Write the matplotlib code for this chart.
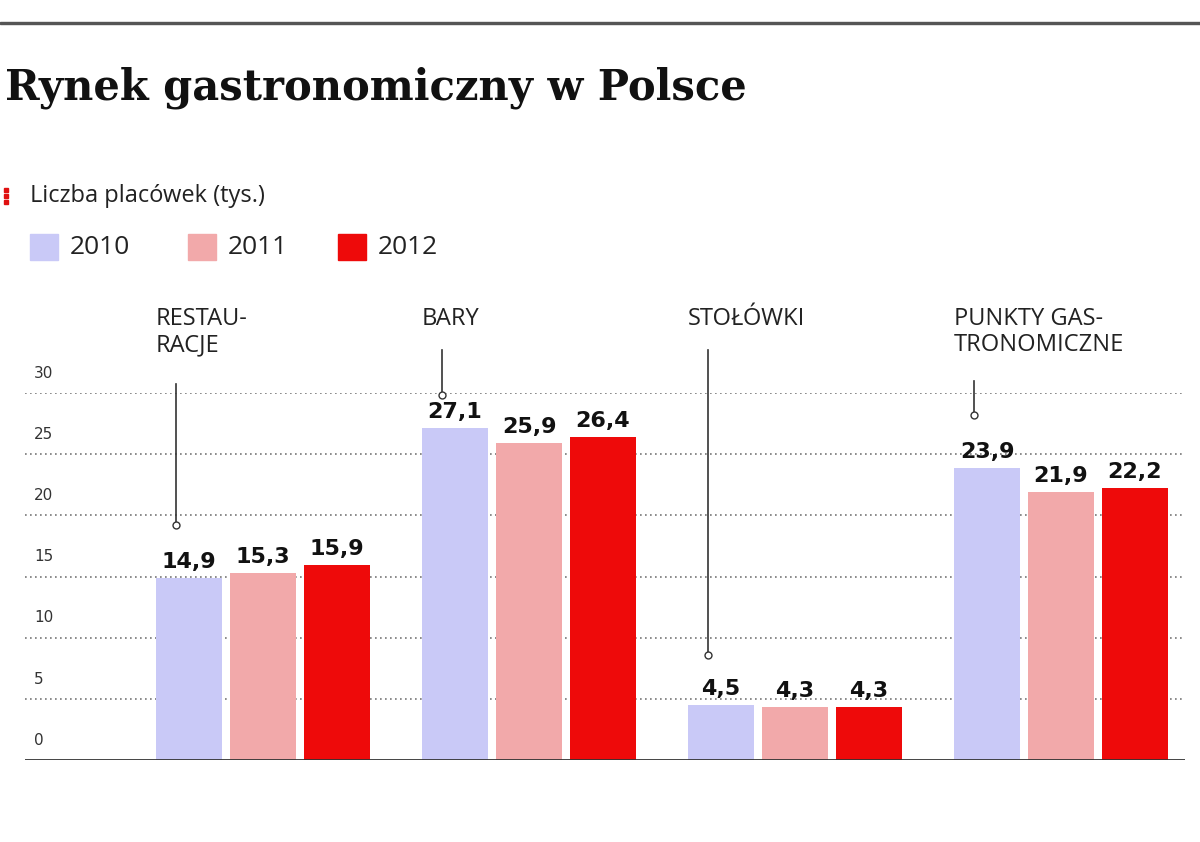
import matplotlib
matplotlib.use("Agg")
import matplotlib.pyplot as plt
import numpy as np

categories = ["RESTAU-\nRACJE", "BARY", "STOŁÓWKI", "PUNKTY GAS-\nTRONOMICZNE"]
years = ["2010", "2011", "2012"]
v2010 = [14.9, 27.1, 4.5, 23.9]
v2011 = [15.3, 25.9, 4.3, 21.9]
v2012 = [15.9, 26.4, 4.3, 22.2]
yticks = [0, 5, 10, 15, 20, 25, 30]
colors = ["#c9c9f7", "#f2a9aa", "#ee0a0a"]

W, H = 1200, 842
fig = plt.figure(figsize=(12, 8.42), dpi=100)
fig.patches.append(plt.Rectangle((0, 1 - 24/H), 1, 2/H, transform=fig.transFigure, color="#555555"))
fig.text(5/W, 1 - 88/H, "Rynek gastronomiczny w Polsce", fontsize=30, fontweight="bold",
         family="DejaVu Serif", va="center", color="#111111")
fig.text(30/W, 1 - 196/H, "Liczba placówek (tys.)", fontsize=17, va="center", color="#222222", family="Open Sans")
for dy in (-6, 0, 6):
    fig.patches.append(plt.Rectangle((4/W, 1 - (196+dy+2)/H), 4/W, 4/H, transform=fig.transFigure, color="#e01010"))
lx = [30, 188, 338]
for xx, y, c in zip(lx, years, colors):
    fig.patches.append(plt.Rectangle((xx/W, 1 - 260/H), 28/W, 26/H, transform=fig.transFigure, color=c))
    fig.text((xx+40)/W, 1 - 247/H, y, fontsize=19, va="center", color="#222222", family="Open Sans")

ax = fig.add_axes([25/W, 82/H, 1160/W, 367/H])
ax.set_ylim(0, 30)
ax.set_xlim(-0.895, 3.466)
x = np.arange(len(categories))
bw, step = 0.25, 0.278
for i, (vals, c) in enumerate(zip([v2010, v2011, v2012], colors)):
    xs = x + (i - 1) * step
    ax.bar(xs, vals, width=bw, color=c, zorder=2)
    for xx, v in zip(xs, vals):
        ax.text(xx, v + 0.5, f"{v:.1f}".replace(".", ","), ha="center", va="bottom",
                fontsize=16, fontweight="bold", color="#111111")
for t in yticks[1:]:
    ax.axhline(t, color="#777777", ls=(0, (1, 2)), lw=1.2, zorder=1)
for t in yticks:
    ax.text(-0.86, t + 1.0, str(t), fontsize=11, color="#333333", va="bottom", ha="left")
ax.axhline(0, color="#333333", lw=2)
for s in ax.spines.values():
    s.set_visible(False)
ax.set_xticks([]); ax.set_yticks([])

tops = [30.7, 33.5, 33.5, 31.0]
lows = [19.2, 29.8, 8.6, 28.2]
for i, cat in enumerate(categories):
    left = x[i] - step - bw / 2
    bx = left + 0.075
    ax.text(left, 37.0, cat, fontsize=17, va="top", ha="left", color="#222222",
            family="Open Sans", linespacing=1.1, clip_on=False)
    ax.plot([bx, bx], [tops[i], lows[i]], color="#333333", lw=1.2, clip_on=False)
    ax.plot([bx], [lows[i]], marker="o", ms=5, mfc="white", mec="#333333", clip_on=False)

fig.savefig("out.png", dpi=100)
